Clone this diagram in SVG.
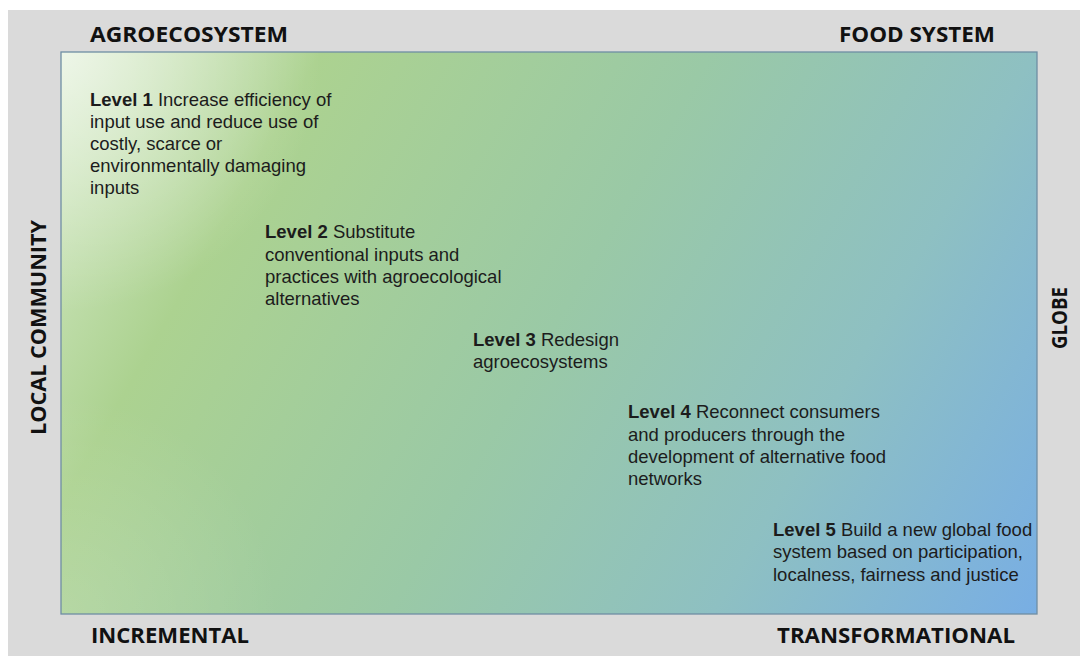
<svg xmlns="http://www.w3.org/2000/svg" width="1080" height="656" viewBox="0 0 1080 656">
<defs>
<linearGradient id="bg" gradientUnits="userSpaceOnUse" x1="61" y1="52" x2="1037" y2="614">
<stop offset="0" stop-color="#d8ebcb"/>
<stop offset="0.2" stop-color="#acd290"/>
<stop offset="0.5" stop-color="#9ac9a6"/>
<stop offset="0.75" stop-color="#8ec0c2"/>
<stop offset="1" stop-color="#78aee4"/>
</linearGradient>
<radialGradient id="hl" gradientUnits="userSpaceOnUse" cx="61" cy="52" r="260">
<stop offset="0" stop-color="#ffffff" stop-opacity="0.55"/>
<stop offset="1" stop-color="#ffffff" stop-opacity="0"/>
</radialGradient>
<radialGradient id="bl" gradientUnits="userSpaceOnUse" cx="61" cy="614" r="220">
<stop offset="0" stop-color="#ffffff" stop-opacity="0.15"/>
<stop offset="1" stop-color="#ffffff" stop-opacity="0"/>
</radialGradient>
</defs>
<style>
.ax{font-family:"Open Sans","Liberation Sans",sans-serif;font-weight:700;font-size:21px;fill:#111}
.t{font-family:"Liberation Sans",Arial,sans-serif;font-size:18.5px;fill:#1c1c1c}
.b{font-weight:700}
</style>
<rect x="8" y="10" width="1072" height="646" fill="#dadada"/>
<g id="panel">
<rect x="61" y="52" width="976" height="562" fill="url(#bg)"/>
<rect x="61" y="52" width="976" height="562" fill="url(#bl)"/>
<rect x="61" y="52" width="976" height="562" fill="url(#hl)" stroke="#6f8ea4" stroke-width="1.3"/>
</g>
<g id="axes">
<text class="ax" x="90" y="42" textLength="198" lengthAdjust="spacingAndGlyphs">AGROECOSYSTEM</text>
<text class="ax" x="839" y="42" textLength="156" lengthAdjust="spacingAndGlyphs">FOOD SYSTEM</text>
<text class="ax" x="91" y="643" textLength="158" lengthAdjust="spacingAndGlyphs">INCREMENTAL</text>
<text class="ax" x="777" y="643" textLength="238" lengthAdjust="spacingAndGlyphs">TRANSFORMATIONAL</text>
<text class="ax" transform="translate(46,435) rotate(-90)" x="0" y="0" textLength="215" lengthAdjust="spacingAndGlyphs">LOCAL COMMUNITY</text>
<text class="ax" transform="translate(1067,349) rotate(-90)" x="0" y="0" textLength="62" lengthAdjust="spacingAndGlyphs">GLOBE</text>
</g>
<g id="level1">
<text class="t" x="90" y="106"><tspan class="b">Level 1</tspan> Increase efficiency of</text>
<text class="t" x="90" y="128">input use and reduce use of</text>
<text class="t" x="90" y="150">costly, scarce or</text>
<text class="t" x="90" y="172">environmentally damaging</text>
<text class="t" x="90" y="194">inputs</text>
</g>
<g id="level2">
<text class="t" x="265" y="238"><tspan class="b">Level 2</tspan> Substitute</text>
<text class="t" x="265" y="261">conventional inputs and</text>
<text class="t" x="265" y="283">practices with agroecological</text>
<text class="t" x="265" y="305">alternatives</text>
</g>
<g id="level3">
<text class="t" x="473" y="346"><tspan class="b">Level 3</tspan> Redesign</text>
<text class="t" x="473" y="368">agroecosystems</text>
</g>
<g id="level4">
<text class="t" x="628" y="418"><tspan class="b">Level 4</tspan> Reconnect consumers</text>
<text class="t" x="628" y="441">and producers through the</text>
<text class="t" x="628" y="463">development of alternative food</text>
<text class="t" x="628" y="485">networks</text>
</g>
<g id="level5">
<text class="t" x="773" y="536"><tspan class="b">Level 5</tspan> Build a new global food</text>
<text class="t" x="773" y="558">system based on participation,</text>
<text class="t" x="773" y="581">localness, fairness and justice</text>
</g>
</svg>
